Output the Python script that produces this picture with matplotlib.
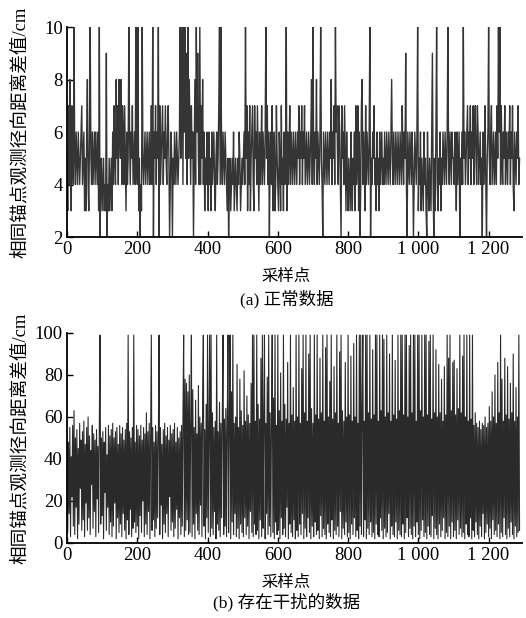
import numpy as np
import matplotlib
matplotlib.use("Agg")
import matplotlib.pyplot as plt

# ---- data ----
# (a) normal data: integer distance differences, one value every 2 samples; 'X' = 10
top_lines = [
    "5374863754" "X546546545" "6745635368" "436X546456" "465463X245",
    "3453439243" "5345364754" "8574865847" "64753645X6" "46574564X5",
    "4X35243X54" "5645645645" "74X2657465" "X274567465" "7546752465",
    "2546546545" "6X59X4X6X5" "94X5864756" "2584X6954X" "4758463546",
    "5364536456" "4356457X4X" "5465465435" "2453454634" "5435465345",
    "4564X57364" "7356743756" "4753645746" "546X574625" "6473563475",
    "4365374536" "45X3645746" "5465465465" "7465746574" "5645645684",
    "X546584654" "6X54265465" "4654658465" "74X6754764" "2756475364",
    "3543643546" "3745736247" "8465374654" "6X25465745" "3645364564",
    "5465465465" "4685465465" "4654654754" "6594265465" "465246546X",
    "3546354364" "5326435436" "942536X435" "4635465465" "46X5465465",
    "5465364562" "5464X56456" "7465746574" "6754764564" "5264574256",
    "X546745645" "6475X6X475" "4657465465" "7465743654" "65745",
]
top_values = [10 if c == "X" else int(c) for c in "".join(top_lines)]

# (b) data with interference (99 = reaches top of axis)
bottom_values = [
    52, 5, 48, 14, 55, 3, 41, 22, 56, 8, 63, 4, 50, 17, 54, 2, 45, 9, 57, 26, 49, 6, 53, 11, 58,
    3, 47, 19, 55, 6, 60, 12, 51, 4, 44, 28, 56, 7, 52, 15, 49, 3, 54, 21, 46, 5, 57, 99, 9, 50,
    13, 53, 2, 48, 24, 55, 6, 42, 17, 56, 4, 51, 10, 54, 3, 57, 8, 50, 19, 53, 2, 55, 12, 47, 5,
    56, 9, 52, 3, 55, 14, 49, 6, 54, 2, 57, 11, 99, 4, 53, 16, 50, 3, 55, 7, 99, 10, 48, 5, 56,
    8, 54, 2, 51, 13, 56, 5, 49, 20, 55, 3, 52, 9, 62, 4, 53, 15, 57, 2, 50, 99, 6, 55, 11, 48,
    3, 56, 7, 53, 12, 50, 99, 4, 55, 18, 47, 2, 54, 9, 57, 5, 51, 14, 55, 3, 49, 22, 56, 6, 52,
    10, 54, 3, 57, 7, 48, 16, 55, 2, 50, 12, 53, 4, 56, 8, 60, 99, 3, 78, 6, 76, 11, 72, 4, 80,
    5, 58, 99, 3, 73, 9, 55, 2, 68, 14, 52, 6, 75, 4, 60, 18, 57, 3, 70, 99, 8, 54, 2, 66, 12,
    99, 5, 56, 99, 3, 99, 7, 62, 4, 55, 15, 58, 2, 99, 9, 53, 6, 67, 3, 57, 12, 61, 99, 4, 59,
    8, 64, 3, 56, 99, 5, 58, 99, 2, 72, 10, 99, 4, 57, 14, 60, 3, 85, 7, 55, 2, 78, 9, 63, 5,
    56, 3, 82, 12, 58, 4, 70, 8, 61, 2, 57, 15, 76, 5, 99, 3, 99, 9, 58, 4, 99, 6, 66, 2, 59,
    11, 88, 3, 99, 7, 60, 99, 2, 57, 14, 79, 4, 99, 8, 62, 3, 58, 99, 5, 69, 2, 99, 10, 56, 4,
    99, 6, 63, 2, 81, 12, 58, 4, 99, 7, 66, 3, 59, 17, 86, 2, 57, 9, 99, 5, 61, 3, 74, 11, 58,
    2, 99, 6, 60, 3, 99, 9, 57, 4, 83, 14, 99, 2, 62, 7, 99, 3, 58, 12, 90, 5, 99, 2, 64, 8,
    57, 3, 99, 10, 61, 4, 99, 6, 59, 2, 88, 13, 62, 3, 99, 7, 58, 4, 93, 2, 99, 9, 60, 5, 77,
    3, 99, 11, 59, 2, 84, 6, 62, 4, 99, 8, 57, 3, 91, 15, 99, 2, 63, 7, 58, 4, 86, 10, 60, 3,
    99, 5, 61, 2, 89, 9, 58, 4, 95, 12, 60, 3, 99, 6, 57, 2, 99, 8, 99, 4, 64, 99, 3, 58, 11,
    99, 2, 99, 7, 62, 4, 99, 10, 59, 3, 92, 5, 61, 2, 99, 9, 99, 4, 58, 3, 99, 12, 63, 6, 99,
    2, 97, 7, 60, 3, 99, 5, 62, 14, 90, 2, 58, 8, 99, 4, 61, 3, 87, 10, 59, 2, 99, 6, 63, 4,
    99, 3, 99, 9, 61, 2, 99, 5, 99, 12, 60, 3, 94, 7, 99, 4, 62, 2, 99, 8, 99, 3, 58, 10, 99,
    4, 99, 2, 63, 6, 99, 11, 60, 3, 99, 5, 99, 2, 61, 8, 96, 4, 99, 3, 59, 13, 99, 2, 62, 7,
    92, 4, 60, 2, 85, 9, 62, 3, 78, 6, 58, 12, 84, 2, 61, 5, 99, 3, 88, 8, 99, 2, 63, 10, 86,
    3, 87, 6, 61, 2, 83, 11, 64, 4, 99, 7, 62, 3, 89, 5, 99, 2, 60, 9, 99, 4, 58, 3, 99, 12,
    59, 2, 99, 6, 56, 3, 62, 10, 57, 4, 55, 2, 58, 8, 54, 3, 57, 14, 56, 2, 60, 5, 55, 9, 57,
    3, 65, 7, 58, 2, 72, 11, 60, 4, 80, 6, 57, 3, 86, 9, 62, 2, 99, 5, 78, 3, 58, 12, 88, 4,
    61, 2, 84, 7, 59, 3, 76, 10, 62, 4, 90, 2, 58, 8, 74, 3, 60, 5, 99, 6,
]

sample_step = 2
x_ticks = [0, 200, 400, 600, 800, 1000, 1200]
x_tick_labels = ["0", "200", "400", "600", "800", "1 000", "1 200"]
top_yticks = [2, 4, 6, 8, 10]
bottom_yticks = [0, 20, 40, 60, 80, 100]
ylabel_text = "相同锚点观测径向距离差值/cm"
xlabel_text = "采样点"
caption_a = "(a) 正常数据"
caption_b = "(b) 存在干扰的数据"

FAM = ["Liberation Serif", "Noto Sans CJK SC"]
plt.rcParams["font.family"] = FAM

fig = plt.figure(figsize=(5.26, 6.18), dpi=100)
ax1 = fig.add_axes([0.1274, 0.6165, 0.865, 0.3398])
ax2 = fig.add_axes([0.1274, 0.1214, 0.865, 0.3398])

xt = np.arange(len(top_values)) * sample_step
ax1.plot(xt, top_values, color="#353535", lw=1.0)
xb = np.arange(len(bottom_values)) * sample_step
ax2.plot(xb, bottom_values, color="#2a2a2a", lw=0.8)

ax_h_px = 0.3398 * 618
for ax, yt, ylim in [(ax1, top_yticks, (2, 10)), (ax2, bottom_yticks, (0, 100))]:
    ax.set_xlim(0, 1295)
    ax.set_ylim(*ylim)
    ax.set_yticks(yt)
    ax.set_xticks(x_ticks)
    ax.set_xticklabels(x_tick_labels)
    ax.spines["top"].set_visible(False)
    ax.spines["right"].set_visible(False)
    ax.spines["left"].set_linewidth(1.3)
    ax.spines["bottom"].set_linewidth(1.3)
    ax.tick_params(direction="in", length=4, width=1, labelsize=13.5, pad=3)
    ax.set_ylabel(ylabel_text, fontsize=13.4)
    ax.yaxis.set_label_coords(-0.082, 0.5)
    ax.set_xlabel(xlabel_text, fontsize=11.8, va="center")
    ax.xaxis.set_label_coords(0.481, -40 / ax_h_px)

fig.text(0.545, 1 - 299 / 618, caption_a, ha="center", va="center", fontsize=12.6)
fig.text(0.545, 1 - 602 / 618, caption_b, ha="center", va="center", fontsize=12.6)

fig.savefig("out.png", dpi=100)
